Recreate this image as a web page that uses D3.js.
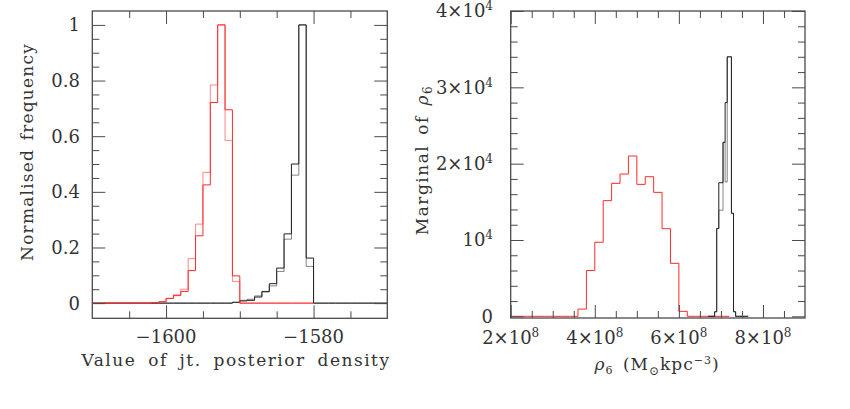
<!DOCTYPE html>
<html><head><meta charset="utf-8">
<script src="https://cdn.jsdelivr.net/npm/d3@7"></script>
<style>
html,body{margin:0;padding:0;background:#fff;}
text{font-family:"DejaVu Serif",serif;fill:#333;}
</style></head>
<body><svg id="c" width="850" height="409"></svg>
<script>
// ---- Left panel data: joint posterior density histograms (bin width 1) ----
const leftBinStart = -1610;
const leftBinWidth = 1;
const leftRedA = [0,0,0,0,0,0,0,0, 0.002,0.005,0.017,0.027,0.042,0.117,0.242,0.425,0.721,1.0,0.695,0.098, 0,0,0,0,0,0,0,0,0,0];
const leftRedB = [0,0,0,0,0,0,0,0, 0.002,0.005,0.017,0.030,0.050,0.160,0.284,0.470,0.784,1.0,0.585,0.078, 0,0,0,0,0,0,0,0,0,0];
const leftBlackA = [0,0,0,0,0,0,0,0,0,0,0,0,0,0,0,0,0,0,0, 0.003,0.008,0.010,0.022,0.042,0.070,0.126,0.249,0.500,1.0,0.162, 0,0,0,0,0,0,0,0,0,0];
const leftBlackB = [0,0,0,0,0,0,0,0,0,0,0,0,0,0,0,0,0,0,0, 0.003,0.010,0.014,0.026,0.040,0.062,0.114,0.230,0.460,1.0,0.132, 0,0,0,0,0,0,0,0,0,0];
const leftXTicks = [-1600, -1580];
const leftXLabels = ["\u22121600", "\u22121580"];
const leftYTicks = [0, 0.2, 0.4, 0.6, 0.8, 1];
const leftYLabels = ["0", "0.2", "0.4", "0.6", "0.8", "1"];

// ---- Right panel data: marginal of rho_6 ----
const rightRedStart = 2.0e8;
const rightRedWidth = 2e7;
const rightRed = [0,0,0,0,0,0,0,0, 950,6000,9700,15150,17420,18640,21000,17290,18290,16240,11480,6940,650, 0,0,0,0,0];
const rightBlackStart = 6.7e8;
const rightBlackWidth = 5e6;
const rightBlackA = [0,0,0, 600,11500,17500,17500,22800,28000,34000,34000,13500,600, 0,0,0,0,0,0];
const rightBlackB = [0,0,0, 600,11500,13900,13900,22800,17600,34000,34000,13500,600, 0,0,0,0,0,0];
const rightXTicks = [2e8, 4e8, 6e8, 8e8];
const rightXMant = ["2", "4", "6", "8"];
const rightYTicks = [0, 1e4, 2e4, 3e4, 4e4];
const rightYMant = ["0", "", "2", "3", "4"];

const svg = d3.select("#c");
const frameColor = "#4a4a4a";

function binsToPoints(start, width, vals) {
  const pts = vals.map((v, i) => [start + i * width, v]);
  pts.push([start + vals.length * width, vals[vals.length - 1]]);
  return pts;
}

function panel(opt) {
  const g = svg.append("g");
  const x = opt.x, y = opt.y;
  const [x0, x1] = x.range();
  const [y0, y1] = y.range();
  const clipId = opt.id + "clip";
  svg.append("clipPath").attr("id", clipId).append("rect")
    .attr("x", x0).attr("y", y1).attr("width", x1 - x0).attr("height", y0 - y1);

  const line = d3.line().x(d => x(d[0])).y(d => y(d[1])).curve(d3.curveStepAfter);
  const dg = g.append("g").attr("clip-path", `url(#${clipId})`);
  opt.series.forEach(s => {
    dg.append("path").attr("d", line(binsToPoints(s.start, s.width, s.vals)))
      .attr("fill", "none").attr("stroke", s.color).attr("stroke-width", 1)
      .attr("stroke-opacity", s.op || 1);
  });

  // ticks on all four sides, pointing inward
  const addAxis = (axis, transform) => {
    const a = g.append("g").attr("transform", transform).call(axis);
    a.select(".domain").remove();
    a.selectAll("line").attr("stroke", frameColor).attr("stroke-width", 1);
    a.selectAll("text").remove();
  };
  [[opt.xMajor, 13], [opt.xMinor, 7]].forEach(([vals, len]) => {
    addAxis(d3.axisBottom(x).tickValues(vals).tickSize(-len).tickFormat(""), `translate(0,${y0})`);
    addAxis(d3.axisTop(x).tickValues(vals).tickSize(-len).tickFormat(""), `translate(0,${y1})`);
  });
  [[opt.yMajor, 13], [opt.yMinor, 7]].forEach(([vals, len]) => {
    addAxis(d3.axisLeft(y).tickValues(vals).tickSize(-len).tickFormat(""), `translate(${x0},0)`);
    addAxis(d3.axisRight(y).tickValues(vals).tickSize(-len).tickFormat(""), `translate(${x1},0)`);
  });

  g.append("rect").attr("x", x0).attr("y", y1).attr("width", x1 - x0).attr("height", y0 - y1)
    .attr("fill", "none").attr("stroke", frameColor).attr("stroke-width", 1.3);
  return g;
}

// ---- Left panel ----
const xL = d3.scaleLinear().domain([-1610, -1570]).range([92.3, 387.3]);
const yL = d3.scaleLinear().domain([-0.0545, 1.05]).range([318.3, 11]);
const gL = panel({
  id: "L", x: xL, y: yL,
  series: [
    {start: leftBinStart, width: leftBinWidth, vals: leftBlackB, color: "#333", op: 0.6},
    {start: leftBinStart, width: leftBinWidth, vals: leftBlackA, color: "#222"},
    {start: leftBinStart, width: leftBinWidth, vals: leftRedB, color: "#ff3a3a", op: 0.6},
    {start: leftBinStart, width: leftBinWidth, vals: leftRedA, color: "#ff2a2a"}
  ],
  xMajor: leftXTicks, xMinor: d3.range(-1605, -1570, 5).filter(v => !leftXTicks.includes(v)),
  yMajor: leftYTicks, yMinor: d3.range(0.05, 1.05, 0.05).filter(v => Math.abs(v * 5 - Math.round(v * 5)) > 1e-6)
});
leftXTicks.forEach((t, i) => {
  gL.append("text").attr("x", xL(t)).attr("y", 343).attr("text-anchor", "middle")
    .attr("font-size", 18).text(leftXLabels[i]);
});
leftYTicks.forEach((t, i) => {
  gL.append("text").attr("x", 80).attr("y", yL(t)).attr("dy", "0.36em").attr("text-anchor", "end")
    .attr("font-size", 18).text(leftYLabels[i]);
});
gL.append("text").attr("x", 236).attr("y", 366).attr("text-anchor", "middle")
  .attr("font-size", 17).attr("letter-spacing", 1.5).attr("word-spacing", 5).text("Value of jt. posterior density");
gL.append("text").attr("transform", "translate(33,152) rotate(-90)").attr("text-anchor", "middle")
  .attr("font-size", 17).attr("letter-spacing", 1.2).attr("word-spacing", 2).text("Normalised frequency");

// ---- Right panel ----
const xR = d3.scaleLinear().domain([2e8, 9e8]).range([510.7, 805]);
const yR = d3.scaleLinear().domain([-220, 40000]).range([318, 11]);
const gR = panel({
  id: "R", x: xR, y: yR,
  series: [
    {start: rightRedStart, width: rightRedWidth, vals: rightRed, color: "#ff2a2a"},
    {start: rightBlackStart, width: rightBlackWidth, vals: rightBlackB, color: "#333", op: 0.6},
    {start: rightBlackStart, width: rightBlackWidth, vals: rightBlackA, color: "#222"}
  ],
  xMajor: rightXTicks, xMinor: d3.range(2.5e8, 9e8, 5e7).filter(v => Math.abs(v / 2e8 - Math.round(v / 2e8)) > 1e-6),
  yMajor: rightYTicks, yMinor: d3.range(2000, 40000, 2000).filter(v => v % 10000 !== 0)
});
rightXTicks.forEach((t, i) => {
  const tx = gR.append("text").attr("x", xR(t)).attr("y", 344).attr("text-anchor", "middle").attr("font-size", 18);
  tx.append("tspan").text(rightXMant[i] + "\u00d710");
  tx.append("tspan").attr("dy", -7).attr("font-size", 12).text("8");
});
rightYTicks.forEach((t, i) => {
  const tx = gR.append("text").attr("x", 493).attr("y", yR(t)).attr("dy", "0.36em").attr("text-anchor", "end").attr("font-size", 18);
  if (t === 0) { tx.text("0"); return; }
  tx.append("tspan").text(rightYMant[i] ? rightYMant[i] + "\u00d710" : "10");
  tx.append("tspan").attr("dy", -7).attr("font-size", 12).text("4");
});
const xt = gR.append("text").attr("x", 657).attr("y", 370).attr("text-anchor", "middle").attr("font-size", 17).attr("letter-spacing", 1.0);
xt.append("tspan").attr("font-style", "italic").text("\u03c1");
xt.append("tspan").attr("dy", 4).attr("font-size", 11).text("6");
xt.append("tspan").attr("dy", -4).text("\u2002(M");
xt.append("tspan").attr("dy", 5).attr("font-size", 12).text("\u2299");
xt.append("tspan").attr("dy", -5).text("kpc");
xt.append("tspan").attr("dy", -6).attr("font-size", 11).text("\u22123");
xt.append("tspan").attr("dy", 6).text(")");
const yt = gR.append("text").attr("transform", "translate(428,160) rotate(-90)").attr("text-anchor", "middle").attr("font-size", 17).attr("letter-spacing", 1.5).attr("word-spacing", 3);
yt.append("tspan").text("Marginal of ");
yt.append("tspan").attr("font-style", "italic").text("\u03c1");
yt.append("tspan").attr("dy", 4).attr("font-size", 12).text("6");
</script></body></html>
